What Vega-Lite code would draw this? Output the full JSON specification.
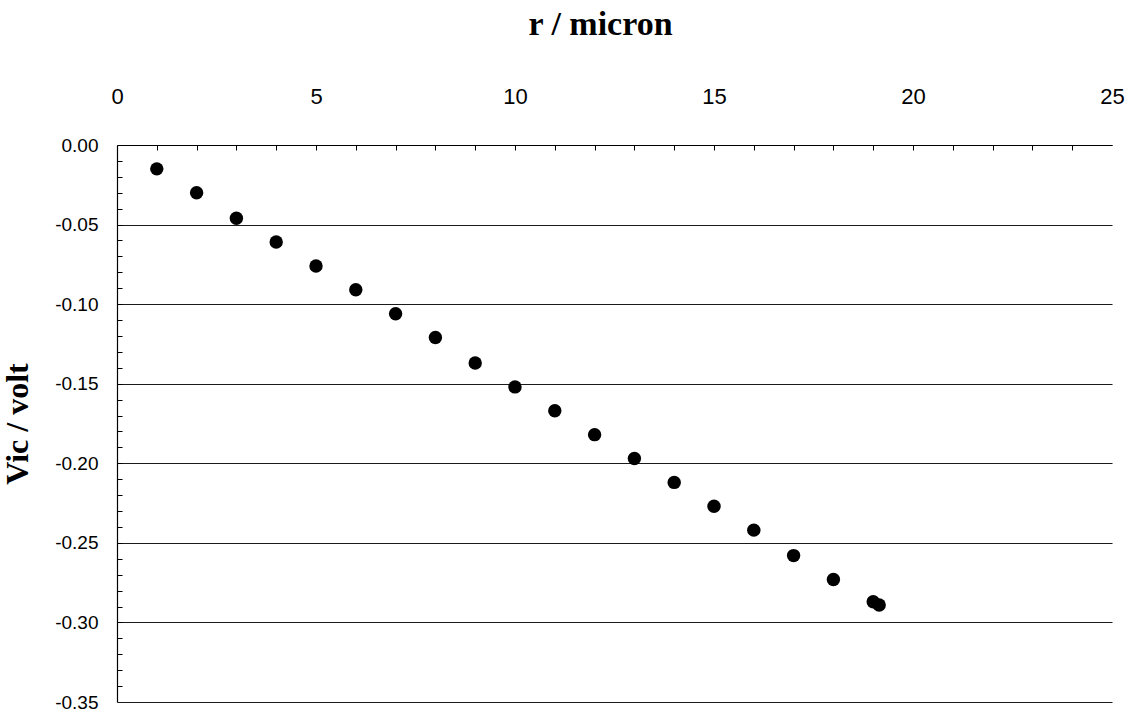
{
  "$schema": "https://vega.github.io/schema/vega-lite/v6.json",
  "width": 995,
  "height": 557,
  "autosize": {"type": "none"},
  "padding": {"left": 117, "top": 145, "right": 22, "bottom": 10},
  "background": "white",
  "config": {"view": {"stroke": null}},
  "data": {"values": [
    {"r": 1, "v": -0.015}, {"r": 2, "v": -0.030}, {"r": 3, "v": -0.046},
    {"r": 4, "v": -0.061}, {"r": 5, "v": -0.076}, {"r": 6, "v": -0.091},
    {"r": 7, "v": -0.106}, {"r": 8, "v": -0.121}, {"r": 9, "v": -0.137},
    {"r": 10, "v": -0.152}, {"r": 11, "v": -0.167}, {"r": 12, "v": -0.182},
    {"r": 13, "v": -0.197}, {"r": 14, "v": -0.212}, {"r": 15, "v": -0.227},
    {"r": 16, "v": -0.242}, {"r": 17, "v": -0.258}, {"r": 18, "v": -0.273},
    {"r": 19.0, "v": -0.287}, {"r": 19.15, "v": -0.289}
  ]},
  "resolve": {"axis": {"x": "independent", "y": "independent"}},
  "layer": [
    {
      "mark": {"type": "point", "filled": true, "color": "black", "opacity": 1, "size": 180},
      "encoding": {
        "x": {
          "field": "r", "type": "quantitative",
          "scale": {"domain": [0, 25], "nice": false, "zero": false},
          "axis": {
            "orient": "top",
            "title": "r / micron",
            "titleFont": "Liberation Serif", "titleFontSize": 34, "titleFontWeight": "bold", "titleColor": "black",
            "titlePadding": 44,
            "titleX": 483,
            "values": [0, 5, 10, 15, 20, 25],
            "labelFont": "Liberation Sans", "labelFontSize": 22, "labelColor": "black",
            "ticks": true, "tickSize": 0,
            "labelPadding": 37,
            "labelFlush": false,
            "labelOverlap": false,
            "domainColor": "black", "domainWidth": 1.2,
            "grid": false
          }
        },
        "y": {
          "field": "v", "type": "quantitative",
          "scale": {"domain": [-0.35, 0], "nice": false, "zero": false},
          "axis": {
            "orient": "left",
            "title": "Vic / volt",
            "titleFont": "Liberation Serif", "titleFontSize": 32, "titleFontWeight": "bold", "titleColor": "black",
            "titlePadding": 20,
            "values": [0, -0.05, -0.1, -0.15, -0.2, -0.25, -0.3, -0.35],
            "labelExpr": "replace(format(datum.value, '.2f'), '\u2212', '-')",
            "labelFont": "Liberation Sans", "labelFontSize": 19, "labelColor": "black",
            "ticks": true, "tickSize": 0,
            "labelPadding": 19,
            "labelFlush": false,
            "labelOverlap": false,
            "domainColor": "black", "domainWidth": 1.2,
            "grid": true,
            "gridColor": "#1a1a1a", "gridWidth": 1.2
          }
        }
      }
    },
    {
      "mark": {"type": "point", "opacity": 0},
      "encoding": {
        "x": {
          "field": "r", "type": "quantitative",
          "axis": {
            "orient": "top",
            "title": null,
            "offset": -5,
            "values": [1,2,3,4,5,6,7,8,9,10,11,12,13,14,15,16,17,18,19,20,21,22,23,24],
            "labels": false,
            "domain": false,
            "grid": false,
            "ticks": true, "tickSize": 5, "tickColor": "black", "tickWidth": 1
          }
        },
        "y": {
          "field": "v", "type": "quantitative",
          "axis": {
            "orient": "left",
            "title": null,
            "offset": -5,
            "values": [-0.01,-0.02,-0.03,-0.04,-0.05,-0.06,-0.07,-0.08,-0.09,-0.1,-0.11,-0.12,-0.13,-0.14,-0.15,-0.16,-0.17,-0.18,-0.19,-0.2,-0.21,-0.22,-0.23,-0.24,-0.25,-0.26,-0.27,-0.28,-0.29,-0.3,-0.31,-0.32,-0.33,-0.34],
            "labels": false,
            "domain": false,
            "grid": false,
            "ticks": true, "tickSize": 5, "tickColor": "black", "tickWidth": 1
          }
        }
      }
    }
  ]
}
